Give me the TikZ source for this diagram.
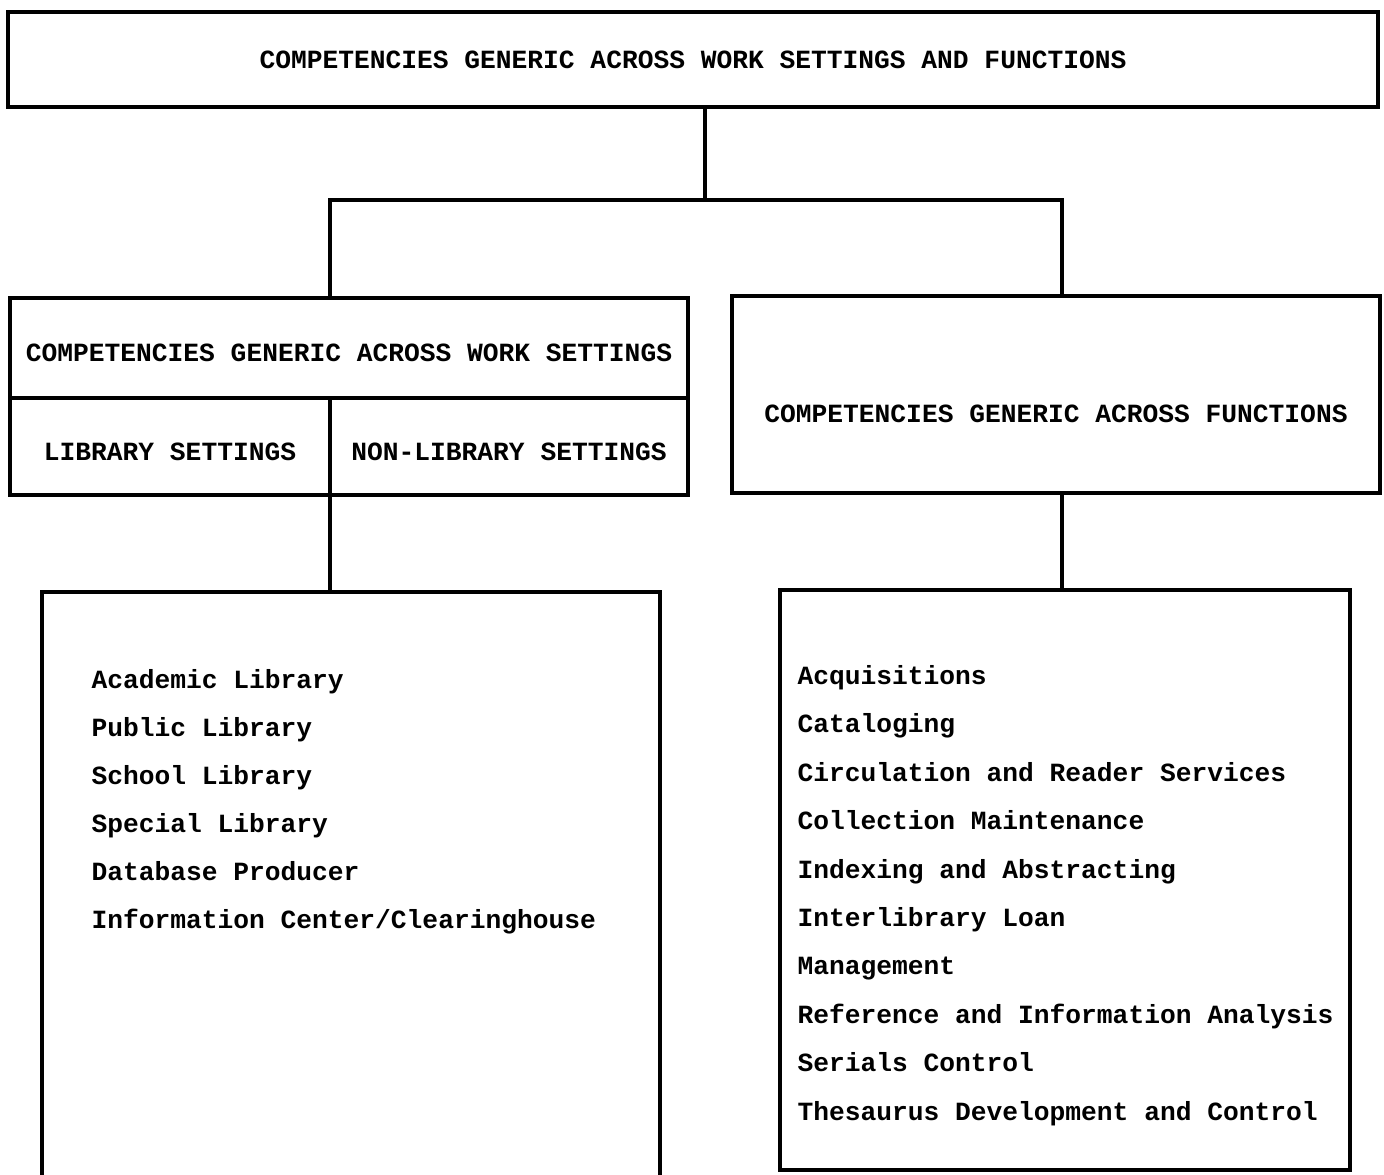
\documentclass[tikz,border=0pt]{standalone}
\usepackage{fontspec}
\setmonofont{Liberation Mono}

\tikzset{every picture/.style={line width=2.3pt}}
\tikzset{
  cbox/.style={draw, inner sep=0pt, outer sep=0pt, font=\ttfamily\bfseries\fontsize{19.7}{36}\selectfont},
  lowtext/.style={text height=20.5pt, text depth=0pt},
  clist/.style={align=left, inner sep=0pt, anchor=north west, font=\ttfamily\bfseries\fontsize{19.7}{36}\selectfont}
}

\begin{document}
\begin{tikzpicture}[x=0.75pt,y=0.75pt,yscale=-1,xscale=1]
\useasboundingbox (0,0) rectangle (1384,1174);
\clip (0,0) rectangle (1384,1174);

%Rect top
\node [cbox, minimum width=1370*0.75pt, minimum height=95*0.75pt] (generic) at (693,59.5) {COMPETENCIES GENERIC ACROSS WORK SETTINGS AND FUNCTIONS};

%Rect work settings
\node [cbox, lowtext, minimum width=678*0.75pt, minimum height=100*0.75pt] (worksets) at (349,348) {COMPETENCIES GENERIC ACROSS WORK SETTINGS};
\node [cbox, lowtext, minimum width=320*0.75pt, minimum height=97*0.75pt] (libsets) at (170,446.5) {LIBRARY SETTINGS};
\node [cbox, lowtext, minimum width=358*0.75pt, minimum height=97*0.75pt] (nonlibsets) at (509,446.5) {NON-LIBRARY SETTINGS};

%Rect functions
\node [cbox, minimum width=648*0.75pt, minimum height=197*0.75pt] (functions) at (1056,394.5) {};
% Text Node
\node [cbox, draw=none] (functext) at (1056,414) {COMPETENCIES GENERIC ACROSS FUNCTIONS};

%Rect lists
\node [cbox, minimum width=618*0.75pt, minimum height=620*0.75pt] (setlist) at (351,902) {};
\node [cbox, minimum width=570*0.75pt, minimum height=580*0.75pt] (funclist) at (1065,880) {};

% Text Node
\node [clist] (settings) at (90,668) {Academic Library\\Public Library\\School Library\\Special Library\\Database Producer\\Information Center/Clearinghouse};
% Text Node
\node [clist, font=\ttfamily\bfseries\fontsize{19.7}{36.3}\selectfont] (functionlist) at (796,664) {Acquisitions\\Cataloging\\Circulation and Reader Services\\Collection Maintenance\\Indexing and Abstracting\\Interlibrary Loan\\Management\\Reference and Information Analysis\\Serials Control\\Thesaurus Development and Control};

%Straight Lines
\coordinate (bus) at (705,200);
\coordinate (busleft) at (330,200);
\coordinate (busright) at (1062,200);
\draw (generic.south -| bus) -- (bus);
\draw (worksets.north -| busleft) -- (busleft) -- (busright) -- (functions.north -| busright);
\draw (libsets.south east) -- (setlist.north -| libsets.south east);
\draw (functions.south -| busright) -- (funclist.north -| busright);

\end{tikzpicture}
\end{document}
